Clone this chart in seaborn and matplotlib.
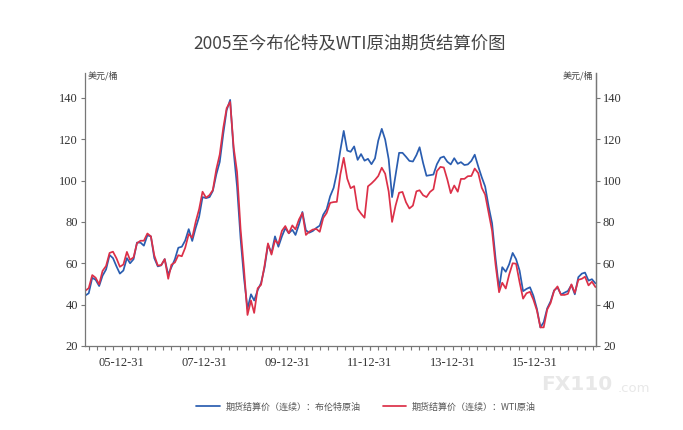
import numpy as np
import pandas as pd
import matplotlib
matplotlib.use("Agg")
import matplotlib.pyplot as plt
import matplotlib.dates as mdates
from matplotlib.ticker import FixedLocator
import seaborn as sns

# 月度结算价（美元/桶），2005-01 至 2017-05，读图估计
brent = [
    44.5, 45.5, 53.0, 52.0, 49.0, 54.0, 57.0, 64.0, 62.5, 58.5, 55.0, 56.5,   # 2005
    62.5, 60.0, 62.0, 70.0, 70.0, 68.5, 73.5, 73.0, 62.5, 58.5, 59.0, 62.0,   # 2006
    54.5, 58.0, 62.0, 67.5, 68.0, 71.0, 76.5, 70.8, 77.0, 82.5, 92.0, 91.5,   # 2007
    92.0, 95.0, 103.0, 109.0, 122.5, 134.0, 139.0, 114.0, 97.0, 72.0, 53.0, 38.0,  # 2008
    45.0, 42.0, 47.0, 50.5, 58.0, 69.0, 65.0, 73.0, 68.0, 73.0, 77.0, 74.5,   # 2009
    76.2, 73.7, 78.8, 84.8, 75.9, 74.8, 75.6, 77.1, 78.2, 83.5, 86.1, 92.4,   # 2010
    96.5, 103.7, 114.6, 124.0, 114.5, 113.9, 116.5, 110.0, 112.8, 109.6, 110.5, 107.9,  # 2011
    110.7, 119.3, 125.0, 119.8, 110.3, 92.0, 102.6, 113.4, 113.4, 111.5, 109.5, 109.2,  # 2012
    112.3, 116.1, 108.5, 102.3, 102.6, 102.9, 107.9, 111.0, 111.6, 109.1, 107.8, 110.8,  # 2013
    108.1, 108.9, 107.5, 107.8, 109.5, 112.5, 106.8, 101.6, 97.1, 87.4, 79.4, 62.3,  # 2014
    47.8, 58.1, 55.9, 59.5, 65.0, 62.0, 56.5, 46.5, 47.6, 48.4, 44.3, 38.0,   # 2015
    29.0, 31.5, 38.2, 41.6, 46.9, 48.3, 44.9, 45.8, 46.6, 49.5, 45.0, 53.3,   # 2016
    55.0, 55.5, 51.6, 52.3, 50.3,                                             # 2017
]
wti = [
    46.8, 48.0, 54.3, 53.0, 49.8, 56.3, 58.7, 65.0, 65.6, 62.4, 58.3, 59.4,
    65.5, 61.6, 62.9, 69.7, 70.9, 70.9, 74.4, 73.0, 63.8, 58.9, 59.1, 62.0,
    52.5, 59.3, 60.4, 63.9, 63.4, 67.5, 74.1, 72.4, 79.9, 86.2, 94.6, 91.7,
    93.0, 95.4, 105.5, 112.6, 125.4, 135.0, 138.0, 116.0, 104.1, 76.6, 57.3, 35.0,
    42.0, 36.0, 47.9, 49.6, 59.0, 69.6, 64.2, 71.1, 69.4, 75.7, 78.0, 74.5,
    78.3, 76.4, 81.2, 84.3, 73.7, 75.3, 76.3, 76.6, 75.2, 81.9, 84.3, 89.2,
    89.6, 89.7, 102.9, 111.0, 100.9, 96.3, 97.3, 86.3, 84.0, 82.0, 97.2, 98.6,
    100.3, 102.2, 106.2, 103.3, 94.7, 80.0, 87.9, 94.1, 94.5, 89.5, 86.5, 87.9,
    94.8, 95.3, 92.9, 92.0, 94.5, 95.8, 104.6, 106.6, 106.3, 100.5, 93.9, 97.6,
    94.6, 100.8, 100.8, 102.1, 102.2, 105.8, 103.6, 96.5, 93.2, 84.4, 75.8, 59.3,
    46.0, 50.6, 47.8, 54.5, 60.0, 59.8, 50.9, 42.9, 45.5, 46.2, 42.4, 37.2,
    29.0, 29.0, 37.6, 40.8, 46.7, 48.8, 44.7, 44.7, 45.2, 49.8, 45.7, 52.0,
    52.5, 53.5, 49.3, 51.1, 48.5,
]
dates = pd.date_range("2005-01-15", periods=len(brent), freq="MS") + pd.Timedelta(days=14)

s_brent = "期货结算价（连续）：布伦特原油"
s_wti = "期货结算价（连续）：WTI原油"
title = "2005至今布伦特及WTI原油期货结算价图"
unit = "美元/桶"

df = pd.DataFrame({"date": np.concatenate([dates, dates]),
                   "price": brent + wti,
                   "series": [s_brent] * len(brent) + [s_wti] * len(wti)})

sns.set_style("white")
cjk = ["Noto Sans CJK SC", "DejaVu Sans"]
serif = ["Liberation Serif", "DejaVu Serif"]
plt.rcParams["font.family"] = cjk

fig = plt.figure(figsize=(6.83, 4.30), dpi=100)
ax = fig.add_axes([85 / 683, 1 - 346 / 430, (596 - 85) / 683, (346 - 73) / 430])
sns.lineplot(data=df, x="date", y="price", hue="series",
             palette={s_brent: "#2a5db0", s_wti: "#dc3048"},
             linewidth=1.25, ax=ax, legend=True)

ax.set_xlim(dates[0] - pd.Timedelta(days=5), dates[-1] + pd.Timedelta(days=5))
ax.set_ylim(20, 152)
ax.set_yticks(range(20, 141, 20))
ax.set_xlabel("")
ax.set_ylabel("")

majors = [mdates.date2num(pd.Timestamp(f"20{y:02d}-12-31")) for y in (5, 7, 9, 11, 13, 15)]
ax.xaxis.set_major_locator(FixedLocator(majors))
ax.xaxis.set_major_formatter(mdates.DateFormatter("%y-%m-%d"))
step = 730.5 / 10
mins = np.arange(majors[0] - 4 * step, mdates.date2num(dates[-1]) + 10, step)
ax.xaxis.set_minor_locator(FixedLocator(mins))

ax.spines["top"].set_visible(False)
for side in ("left", "right", "bottom"):
    ax.spines[side].set_color("#777777")
    ax.spines[side].set_linewidth(0.9)

ax.tick_params(axis="both", which="both", direction="out", color="#777777",
               length=3, width=0.8, labelsize=9, labelcolor="#333333")
ax.tick_params(axis="x", which="both", bottom=True, pad=5)
ax.tick_params(axis="y", left=True, pad=2)
for lab in ax.get_xticklabels() + ax.get_yticklabels():
    lab.set_family(serif)

ax2 = ax.twinx()
ax2.set_ylim(ax.get_ylim())
ax2.set_yticks(range(20, 141, 20))
ax2.tick_params(axis="y", direction="out", color="#777777", length=3, width=0.8,
                labelsize=9, labelcolor="#333333", right=True, pad=2)
for lab in ax2.get_yticklabels():
    lab.set_family(serif)
for side in ("top", "left", "bottom"):
    ax2.spines[side].set_visible(False)
ax2.spines["right"].set_color("#777777")
ax2.spines["right"].set_linewidth(0.9)

fig.text(88 / 683, 1 - 76 / 430, unit, fontsize=6.5, color="#444444", va="center", ha="left")
fig.text(593 / 683, 1 - 76 / 430, unit, fontsize=6.5, color="#444444", va="center", ha="right")
fig.text(350 / 683, 1 - 43 / 430, title, fontsize=12.5, color="#444444", ha="center", va="center")

# 水印
fig.text(541 / 683, 1 - 385 / 430, "FX110", fontsize=14.5, fontweight="bold",
         color="#e8e8e8", ha="left", va="center", family=["DejaVu Sans"])
fig.text(618 / 683, 1 - 388 / 430, ".com", fontsize=9.5,
         color="#e8e8e8", ha="left", va="center", family=["DejaVu Sans"])

handles, labels = ax.get_legend_handles_labels()
ax.legend_.remove()
fig.legend(handles, labels, loc="center", bbox_to_anchor=(366 / 683, 1 - 407 / 430),
           ncol=2, frameon=False, fontsize=6.5, labelcolor="#555555",
           handlelength=2.6, columnspacing=2.5, handletextpad=0.6)

fig.savefig("out.png", dpi=100)
